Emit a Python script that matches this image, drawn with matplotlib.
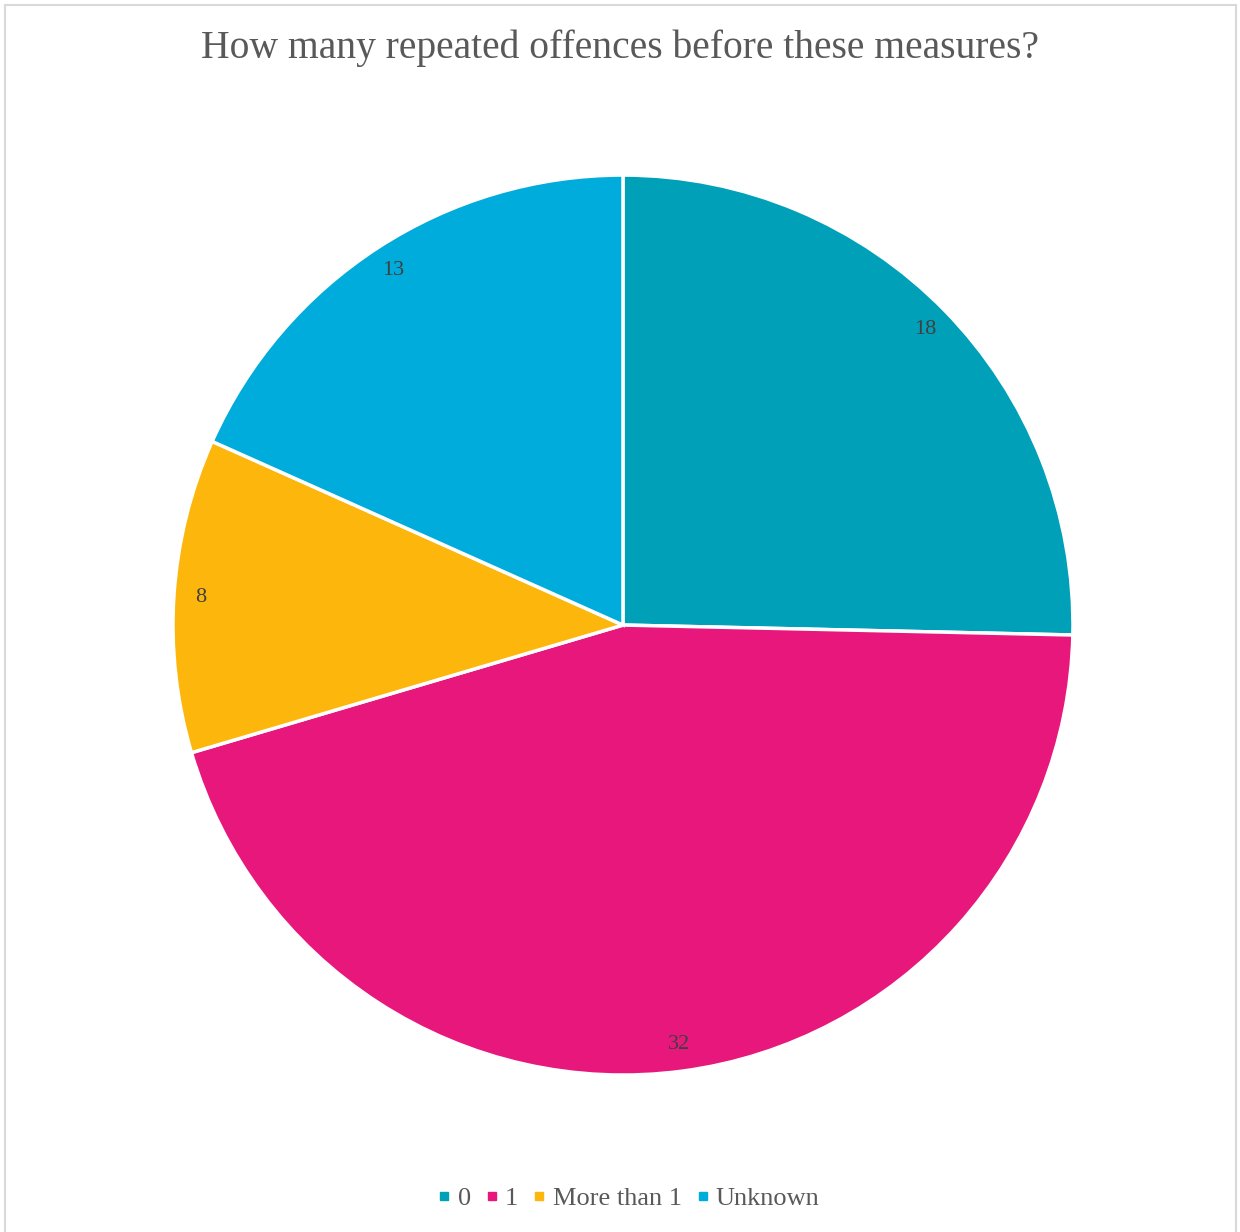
import matplotlib
matplotlib.use("Agg")
import matplotlib.pyplot as plt
from matplotlib.patches import Rectangle
from matplotlib.lines import Line2D

title = "How many repeated offences before these measures?"
categories = ["0", "1", "More than 1", "Unknown"]
values = [18, 32, 8, 13]
colors = ["#00A0B8", "#E8177C", "#FDB70C", "#00ACDC"]

text_color = "#595959"
label_color = "#404040"
serif = ["Liberation Serif", "DejaVu Serif"]

fig = plt.figure(figsize=(12.4, 12.32), dpi=100)
fig.patch.set_facecolor("white")

# light outer frame of the chart area
fig.add_artist(Rectangle((5 / 1240, -0.01), 1231 / 1240, 1 - 5 / 1232 + 0.01,
                         transform=fig.transFigure, fill=False,
                         edgecolor="#D9D9D9", linewidth=1.5))

ax = fig.add_axes([0.1395, 0.1274, 0.7258, 0.7305])
wedges, _, autotexts = ax.pie(
    values,
    colors=colors,
    startangle=90,
    counterclock=False,
    autopct=lambda p: f"{round(p * sum(values) / 100):d}",
    pctdistance=0.94,
    wedgeprops=dict(edgecolor="white", linewidth=2.5),
    textprops=dict(color=label_color, fontsize=16, family=serif),
)
ax.set_aspect("equal")
ax.set_xlim(-1, 1)
ax.set_ylim(-1, 1)
ax.axis("off")

fig.text(0.5, 1 - 48 / 1232, title, ha="center", va="center",
         fontsize=28.5, color=text_color, family=serif)

handles = [Line2D([0], [0], marker="s", linestyle="none", markersize=6,
                  markerfacecolor=c, markeredgecolor=c) for c in colors]
fig.legend(handles, categories, loc="center", bbox_to_anchor=(0.507, 1 - 1198 / 1232),
           ncol=4, frameon=False, handlelength=0.5, handletextpad=0.25,
           columnspacing=0.55, prop=dict(family=serif, size=19),
           labelcolor=text_color)

fig.savefig("out.png", dpi=100, facecolor="white")
